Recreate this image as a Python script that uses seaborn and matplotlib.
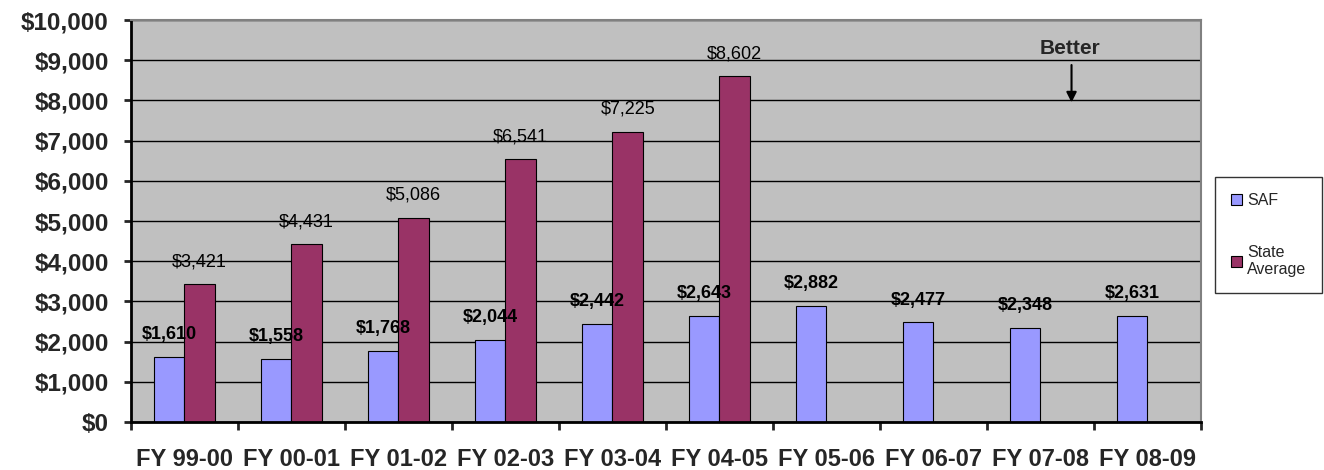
import numpy as np
import pandas as pd
import matplotlib.pyplot as plt
import seaborn as sns

years = ['FY 99-00', 'FY 00-01', 'FY 01-02', 'FY 02-03', 'FY 03-04',
         'FY 04-05', 'FY 05-06', 'FY 06-07', 'FY 07-08', 'FY 08-09']
saf = [1610, 1558, 1768, 2044, 2442, 2643, 2882, 2477, 2348, 2631]
state_avg = [3421, 4431, 5086, 6541, 7225, 8602]
series_names = ['SAF', 'State\nAverage']
colors = ['#9999FF', '#993366']

df = pd.concat([
    pd.DataFrame({'year': years, 'cost': saf, 'series': series_names[0]}),
    pd.DataFrame({'year': years[:len(state_avg)], 'cost': state_avg,
                  'series': series_names[1]}),
])

sns.set_style('white')
plt.rcParams['font.family'] = ['Liberation Sans', 'DejaVu Sans']

fig = plt.figure(figsize=(13.24, 4.70), dpi=100)
ax = fig.add_axes([0.0989, 0.1021, 0.8082, 0.8553])
ax.set_facecolor('#C0C0C0')

sns.barplot(data=df, x='year', y='cost', hue='series', order=years,
            hue_order=series_names, palette=colors, width=0.57,
            edgecolor='black', linewidth=0.8, saturation=1, ax=ax)

# value labels above bars
for cont, weight in zip(ax.containers, ['bold', 'normal']):
    labels = [f"${b.get_height():,.0f}" for b in cont]
    ax.bar_label(cont, labels=labels, padding=10, fontsize=13,
                 fontweight=weight, color='black')

ax.set_ylim(0, 10000)
ax.set_xlim(-0.5, len(years) - 0.5)
ax.set_yticks(np.arange(0, 10001, 1000))
ax.set_yticklabels([f"${v:,.0f}" for v in range(0, 10001, 1000)],
                   fontsize=17.5, fontweight='bold')
ax.yaxis.grid(True, color='black', linewidth=1)
ax.set_axisbelow(True)
ax.tick_params(axis='y', length=5, width=2, pad=11, left=True)

ax.set_xticks(range(len(years)))
ax.set_xticklabels(years, fontsize=17, fontweight='bold')
ax.set_xticks(np.arange(-0.5, len(years)), minor=True)
ax.tick_params(axis='x', which='major', length=0, pad=19)
ax.tick_params(axis='x', which='minor', length=6, width=2, bottom=True)
ax.set_xlabel('')
ax.set_ylabel('')

for side in ['left', 'bottom']:
    ax.spines[side].set_color('black')
    ax.spines[side].set_linewidth(2)
for side in ['top', 'right']:
    ax.spines[side].set_visible(True)
    ax.spines[side].set_color('#808080')
    ax.spines[side].set_linewidth(1.5)

# "Better" annotation
ax.annotate('', xy=(8.29, 7880), xytext=(8.29, 8950),
            arrowprops=dict(arrowstyle='-|>', color='black', lw=1.5,
                            mutation_scale=15))
ax.text(8.28, 9280, 'Better', fontsize=15, fontweight='bold',
        ha='center', va='center')

handles, labels = ax.get_legend_handles_labels()
ax.get_legend().remove()
leg = fig.legend(handles, labels, loc='upper left',
                 bbox_to_anchor=(1215 / 1324, 1 - 177 / 470),
                 fontsize=11.5, frameon=True, fancybox=False,
                 edgecolor='black', labelspacing=2.3, handlelength=0.7,
                 handleheight=0.7, handletextpad=0.3, borderpad=1.0,
                 borderaxespad=0)
leg.get_frame().set_linewidth(1)

fig.savefig('out.png', dpi=100)
